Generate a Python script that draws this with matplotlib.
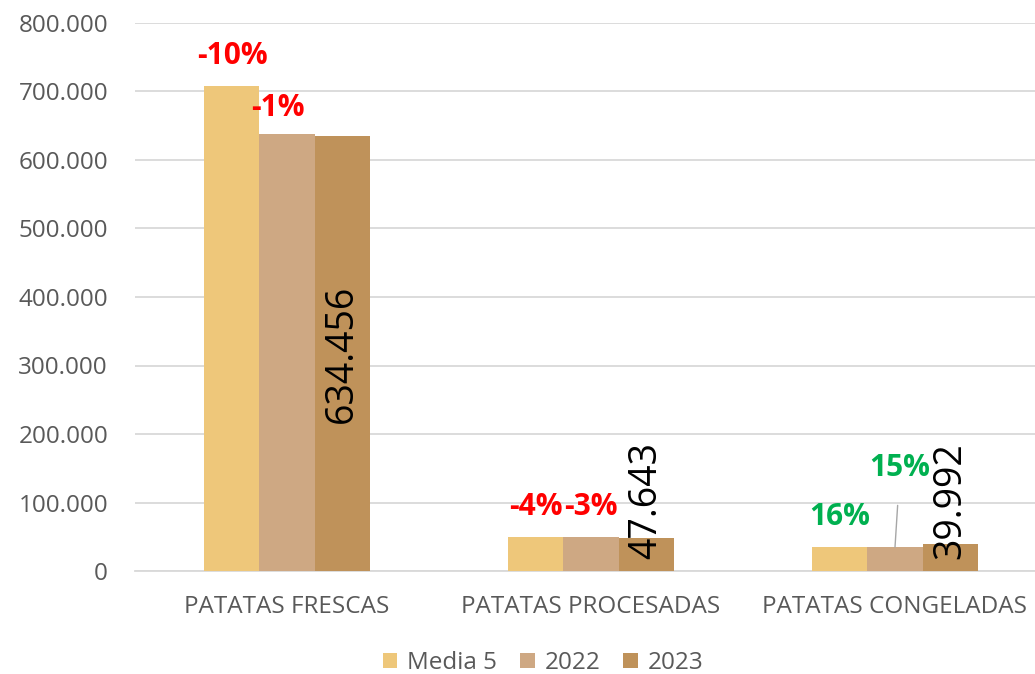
import matplotlib
matplotlib.use("Agg")
import matplotlib.pyplot as plt
import numpy as np

categories = ["PATATAS FRESCAS", "PATATAS PROCESADAS", "PATATAS CONGELADAS"]
series_names = ["Media 5", "2022", "2023"]
media5 = [708000, 49600, 34480]
y2022 = [638000, 49100, 34780]
y2023 = [634456, 47643, 39992]
pct_media5 = ["-10%", "-4%", "16%"]
pct_2022 = ["-1%", "-3%", "15%"]
value_labels = ["634.456", "47.643", "39.992"]
yticks = [0, 100000, 200000, 300000, 400000, 500000, 600000, 700000, 800000]
ytick_labels = ["0", "100.000", "200.000", "300.000", "400.000", "500.000", "600.000", "700.000", "800.000"]

colors = ["#EEC77A", "#CEA883", "#BF925A"]
FONT = "Open Sans"
GRAY = "#595959"
PX = 0.72  # points per pixel at dpi 100

fig = plt.figure(figsize=(10.35, 6.74), dpi=100)
ax = fig.add_axes([135/1035, 1-571/674, 912/1035, 548/674])

x = np.arange(len(categories))
w = 0.181
data = [media5, y2022, y2023]
for i, (vals, c, name) in enumerate(zip(data, colors, series_names)):
    ax.bar(x + (i-1)*w, vals, w, color=c, label=name, zorder=3)

ax.set_xlim(-0.5, 2.5)
ax.set_ylim(0, 800000)
ax.set_yticks(yticks)
ax.set_yticklabels(ytick_labels, fontfamily=FONT, fontsize=17.5, color=GRAY)
ax.set_xticks(x)
ax.set_xticklabels(categories, fontfamily=FONT, fontsize=17.5, color=GRAY)
ax.tick_params(axis='y', length=0, pad=27*PX)
ax.tick_params(axis='x', length=0, pad=24*PX)
ax.grid(axis='y', color="#D9D9D9", linewidth=1.3, zorder=0)
for s in ["top", "right", "left"]:
    ax.spines[s].set_visible(False)
ax.spines["bottom"].set_color("#D9D9D9")
ax.spines["bottom"].set_linewidth(1.3)

PCT_FS = 21.5
pct_colors = ["red", "red", "#00B050"]
for j in range(3):
    ax.annotate(pct_media5[j], (x[j]-w, media5[j]), xytext=(0, 30*PX), textcoords="offset points",
                ha="center", va="center", fontsize=PCT_FS, fontweight="bold", color=pct_colors[j],
                fontfamily=FONT)
ax.annotate(pct_2022[0], (x[0], y2022[0]), xytext=(-9*PX, 26*PX), textcoords="offset points",
            ha="center", va="center", fontsize=PCT_FS, fontweight="bold", color="red", fontfamily=FONT)
ax.annotate(pct_2022[1], (x[1], y2022[1]), xytext=(0, 30*PX), textcoords="offset points",
            ha="center", va="center", fontsize=PCT_FS, fontweight="bold", color="red", fontfamily=FONT)
ax.annotate(pct_2022[2], (x[2], y2022[2]), xytext=(5*PX, 79*PX), textcoords="offset points",
            ha="center", va="center", fontsize=PCT_FS, fontweight="bold", color="#00B050", fontfamily=FONT,
            arrowprops=dict(arrowstyle="-", color="#A6A6A6", lw=1, shrinkA=14, shrinkB=0))

for j in range(3):
    yv = y2023[0] / 2 if j == 0 else 103000
    ax.text(x[j]+w, yv, value_labels[j], rotation=90, ha="center", va="center",
            fontsize=27, color="black", fontfamily=FONT, zorder=5)

leg = fig.legend(loc="center", bbox_to_anchor=(543/1035, 1-663/674), ncol=3, frameon=False,
                 prop={"family": FONT, "size": 17.5}, handlelength=0.6, handleheight=0.6,
                 columnspacing=0.95, handletextpad=0.4)
for t in leg.get_texts():
    t.set_color(GRAY)

fig.savefig("out.png", dpi=100)
